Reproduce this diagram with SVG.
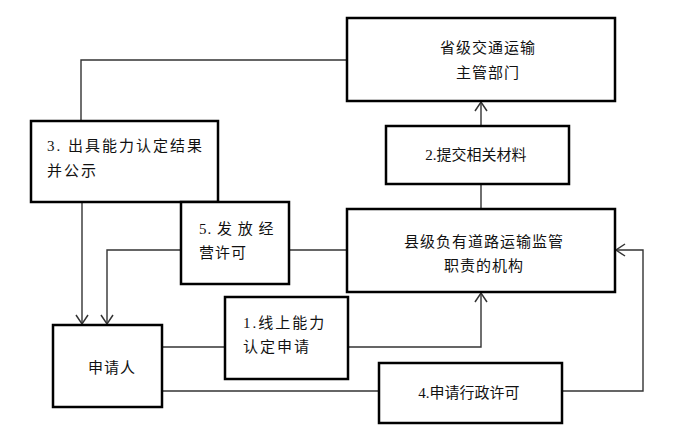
<svg xmlns="http://www.w3.org/2000/svg" width="700" height="434" viewBox="0 0 700 434">
<style>
.box{fill:#fff;stroke:#000;stroke-width:2.5}
.t{font-family:"Liberation Serif","Noto Sans CJK SC",serif;font-size:15px;fill:#111;dominant-baseline:central}
.c{fill:none;stroke:#333;stroke-width:1.4}
</style>
<defs>
<marker id="a" markerUnits="userSpaceOnUse" markerWidth="12" markerHeight="14" refX="10" refY="7" orient="auto" overflow="visible">
<path d="M1,1 L10,7 L1,13" fill="none" stroke="#333" stroke-width="1.5"/>
</marker>
</defs>
<rect width="700" height="434" fill="#fff"/>
<g id="connectors">
<polyline class="c" points="347,60 81,60 81,121"/>
<line class="c" x1="82" y1="202" x2="82" y2="324" marker-end="url(#a)"/>
<polyline class="c" points="181,250 107,250 107,324" marker-end="url(#a)"/>
<line class="c" x1="289" y1="250" x2="347" y2="250"/>
<line class="c" x1="162" y1="347" x2="225" y2="347"/>
<polyline class="c" points="348,347 481,347 481,293" marker-end="url(#a)"/>
<line class="c" x1="162" y1="391" x2="379" y2="391"/>
<polyline class="c" points="562,391 643,391 643,250 616,250" marker-end="url(#a)"/>
<line class="c" x1="481" y1="209" x2="481" y2="184"/>
<line class="c" x1="481" y1="126" x2="481" y2="102" marker-end="url(#a)"/>
</g>
<g id="node-province">
<rect class="box" x="347" y="18" width="268" height="83"/>
<text class="t" x="488" y="48" text-anchor="middle" letter-spacing="1">省级交通运输</text>
<text class="t" x="488" y="73" text-anchor="middle" letter-spacing="1">主管部门</text>
</g>
<g id="node-submit">
<rect class="box" x="386" y="126" width="183" height="58"/>
<text class="t" x="476" y="155" text-anchor="middle">2.提交相关材料</text>
</g>
<g id="node-county">
<rect class="box" x="347" y="209" width="268" height="83"/>
<text class="t" x="484" y="242" text-anchor="middle" letter-spacing="1">县级负有道路运输监管</text>
<text class="t" x="484" y="266" text-anchor="middle" letter-spacing="1">职责的机构</text>
</g>
<g id="node-result">
<rect class="box" x="31" y="121" width="187" height="81"/>
<text class="t" x="47" y="146" letter-spacing="2">3. 出具能力认定结果</text>
<text class="t" x="47" y="171" letter-spacing="2">并公示</text>
</g>
<g id="node-issue">
<rect class="box" x="181" y="202" width="108" height="82"/>
<text class="t" x="199" y="229" letter-spacing="1">5. 发 放 经</text>
<text class="t" x="199" y="253" letter-spacing="1">营许可</text>
</g>
<g id="node-applicant">
<rect class="box" x="53" y="325" width="109" height="82"/>
<text class="t" x="88" y="368" letter-spacing="1">申请人</text>
</g>
<g id="node-online">
<rect class="box" x="225" y="297" width="123" height="82"/>
<text class="t" x="243" y="323" letter-spacing="2">1.线上能力</text>
<text class="t" x="243" y="347" letter-spacing="2">认定申请</text>
</g>
<g id="node-admin">
<rect class="box" x="379" y="363" width="183" height="60"/>
<text class="t" x="469" y="393" text-anchor="middle">4.申请行政许可</text>
</g>
</svg>
